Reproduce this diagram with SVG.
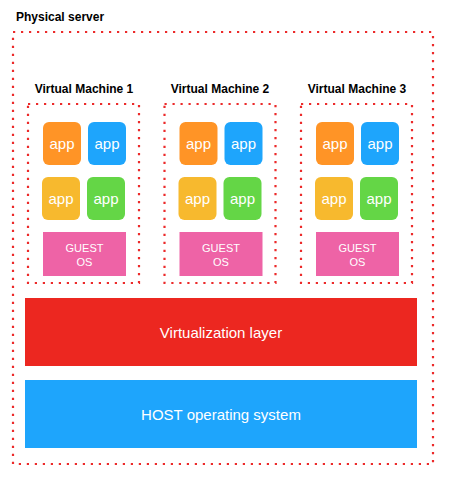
<svg xmlns="http://www.w3.org/2000/svg" width="456" height="489" viewBox="0 0 456 489">
<style>
.dot{fill:none;stroke:#EC2A2A;stroke-width:2.2;stroke-dasharray:2.2 5.8}
.title{font-family:"Liberation Sans",Arial,sans-serif;font-weight:bold;font-size:12px;fill:#000}
.app{font-family:"Liberation Sans",Arial,sans-serif;font-size:15px;fill:#fff;text-anchor:middle}
.os{font-family:"Liberation Sans",Arial,sans-serif;font-size:11px;fill:#fff;text-anchor:middle}
.layer{font-family:"Liberation Sans",Arial,sans-serif;font-size:15px;fill:#fff;text-anchor:middle}
.o{fill:#FF9426}.b{fill:#1EA5FC}.y{fill:#F7B92E}.g{fill:#64D646}.p{fill:#EE63A6}
</style>
<defs>
<g id="vm">
<rect x="0" y="0" width="111" height="179" class="dot"/>
<rect x="15" y="18" width="38" height="43" rx="6" class="o"/>
<text x="34" y="45" class="app">app</text>
<rect x="60" y="18" width="38" height="43" rx="6" class="b"/>
<text x="79" y="45" class="app">app</text>
<rect x="14" y="73" width="38" height="43" rx="6" class="y"/>
<text x="33" y="100" class="app">app</text>
<rect x="59" y="73" width="38" height="43" rx="6" class="g"/>
<text x="78" y="100" class="app">app</text>
<rect x="15" y="128" width="83" height="44" class="p"/>
<text x="56.5" y="148" class="os">GUEST</text>
<text x="56.5" y="161.5" class="os">OS</text>
</g>
</defs>
<g id="physical-server">
<text x="16" y="21" class="title">Physical server</text>
<rect x="13" y="32" width="420" height="432" class="dot"/>
</g>
<g id="vm1">
<text x="84" y="93" class="title" text-anchor="middle">Virtual Machine 1</text>
<use href="#vm" x="28" y="104"/>
</g>
<g id="vm2">
<text x="220" y="93" class="title" text-anchor="middle">Virtual Machine 2</text>
<use href="#vm" x="164.5" y="104"/>
</g>
<g id="vm3">
<text x="357" y="93" class="title" text-anchor="middle">Virtual Machine 3</text>
<use href="#vm" x="301" y="104"/>
</g>
<g id="virtualization-layer">
<rect x="25" y="298" width="392" height="68" fill="#EC2720"/>
<text x="221" y="338" class="layer">Virtualization layer</text>
</g>
<g id="host-os">
<rect x="25" y="380" width="392" height="68" fill="#1EA5FC"/>
<text x="221" y="420" class="layer">HOST operating system</text>
</g>
<g id="connectors"/>
</svg>
